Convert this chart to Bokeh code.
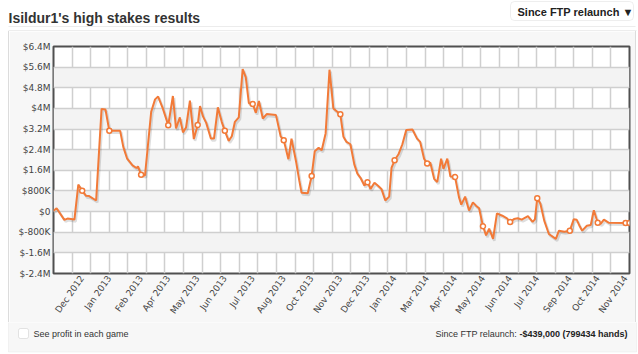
import math
import numpy as np
from bokeh.plotting import figure
from bokeh.layouts import column, row
from bokeh.models import (Range1d, FixedTicker, Label, BoxAnnotation, ColumnDataSource, Spacer)
from bokeh.transform import dodge
from bokeh.embed import file_html
from bokeh.resources import INLINE

# ---------------- data ----------------
title_text = "Isildur1's high stakes results"
range_choice = "Since FTP relaunch \u25BC"
checkbox_text = "See profit in each game"
summary_prefix = "Since FTP relaunch:"
summary_value = "-$439,000 (799434 hands)"

# days since the FTP relaunch
days = [0, 4, 14, 18, 27, 32, 37, 42, 46, 55, 62, 67, 72, 86, 90, 95, 102, 107, 109, 113,
        118, 126, 131, 135, 141, 148, 154, 158, 163, 167, 171, 176, 181, 186, 189, 193, 197,
        203, 207, 212, 217, 221, 226, 230, 234, 239, 244, 248, 252, 257, 261, 265, 270, 275,
        287, 293, 297, 303, 307, 313, 317, 320, 328, 333, 337, 342, 346, 351, 356, 361, 370,
        374, 378, 383, 388, 392, 396, 401, 405, 409, 414, 419, 423, 428, 433, 436, 440, 445,
        450, 455, 463, 469, 473, 478, 482, 486, 491, 495, 500, 503, 508, 512, 518, 523, 526,
        531, 536, 541, 545, 549, 554, 558, 562, 567, 572, 579, 585, 589, 594, 599, 604, 612,
        618, 621, 624, 628, 633, 639, 648, 652, 659, 666, 671, 675, 679, 682, 688, 693, 697,
        702, 706, 710, 716, 738, 743]
# cumulative profit, millions of dollars
profit_m = [0.03, 0.13, -0.32, -0.27, -0.31, 1.05, 0.81, 0.61, 0.60, 0.43, 3.98, 3.96, 3.13,
            3.13, 2.51, 2.05, 1.79, 1.69, 1.75, 1.43, 1.40, 3.87, 4.35, 4.46, 4.00, 3.35, 4.48,
            3.22, 3.65, 3.07, 3.26, 4.30, 2.81, 3.36, 4.09, 3.68, 3.44, 2.83, 2.83, 4.04, 3.48,
            3.13, 2.74, 2.92, 3.48, 3.65, 5.52, 5.21, 4.20, 4.17, 3.83, 4.29, 3.61, 3.78, 3.74,
            2.92, 2.77, 2.03, 2.83, 1.92, 1.21, 0.73, 0.71, 1.38, 2.34, 2.47, 2.38, 3.03, 5.50,
            4.00, 3.77, 2.90, 2.70, 2.61, 1.83, 1.47, 1.31, 1.01, 1.14, 0.88, 1.12, 0.99, 0.88,
            0.43, 0.58, 1.69, 1.99, 2.22, 2.61, 3.16, 3.18, 2.83, 2.70, 2.05, 1.86, 1.90, 1.27,
            1.14, 2.05, 1.66, 2.05, 1.36, 1.34, 0.56, 0.27, 0.58, 0.04, 0.36, 0.23, 0.13, -0.57,
            -0.92, -0.66, -1.06, -0.07, -0.16, -0.26, -0.40, -0.29, -0.26, -0.31, -0.18, -0.40,
            -0.30, 0.52, 0.31, -0.35, -0.87, -1.06, -0.74, -0.78, -0.74, -0.30, -0.32, -0.58,
            -0.74, -0.55, -0.52, 0.05, -0.43, -0.47, -0.31, -0.43, -0.439, -0.439]

tick_days = [37, 72, 113, 148, 186, 221, 257, 297, 333, 370, 405, 440, 482, 518, 554, 589,
             624, 666, 702, 738]
tick_labels = ["Dec 2012", "Jan 2013", "Feb 2013", "Apr 2013", "May 2013", "Jun 2013",
               "Jul 2013", "Aug 2013", "Oct 2013", "Nov 2013", "Dec 2013", "Jan 2014",
               "Mar 2014", "Apr 2014", "May 2014", "Jun 2014", "Jul 2014", "Sep 2014",
               "Oct 2014", "Nov 2014"]
last_day = 743
y_ticks = [-2.4, -1.6, -0.8, 0, 0.8, 1.6, 2.4, 3.2, 4.0, 4.8, 5.6, 6.4]
y_labels = ["$-2.4M", "$-1.6M", "$-800K", "$0", "$800K", "$1.6M", "$2.4M", "$3.2M",
            "$4M", "$4.8M", "$5.6M", "$6.4M"]

# ---------------- layout constants ----------------
W = 638
TOP_H, MAIN_H, BOT_H = 31, 291, 32
PANEL_L, PANEL_R = 8, 635
ORANGE = "#f27a38"
PANEL_BG = "#f7f7f7"
PANEL_LINE = "#dcdcdc"
SANS = "Liberation Sans"


def strip(height):
    f = figure(width=W, height=height, x_range=Range1d(0, W), y_range=Range1d(height, 0),
               x_axis_type=None, y_axis_type=None, output_backend="svg",
               toolbar_location=None, min_border=0, outline_line_color=None,
               background_fill_color="white", border_fill_color="white", title=None)
    f.grid.visible = False
    return f


def box(f, l, t, r, b, **kw):
    f.add_layout(BoxAnnotation(left=l, right=r, top=t, bottom=b, **kw))


# ---------- top strip: title + range selector ----------
top = strip(TOP_H)
top.add_layout(Label(x=8, y=17, text=title_text, text_font=SANS, text_font_size="14px",
                     text_font_style="bold", text_color="#333333",
                     text_baseline="alphabetic"))
box(top, PANEL_L, 25.5, PANEL_R, 26.5, fill_color="#ececec", fill_alpha=1, line_alpha=0)
box(top, 510, 1, 633, 20, fill_color="white", fill_alpha=1, line_color="#c8c8c8",
    line_width=1, border_radius=4)
top.add_layout(Label(x=517, y=11, text=range_choice, text_font=SANS, text_font_size="11px",
                     text_font_style="bold", text_color="#222222", text_baseline="middle"))
box(top, PANEL_L, 30, PANEL_R + 1, 31, fill_color=PANEL_LINE, fill_alpha=1, line_alpha=0)

# ---------- main chart ----------
p = figure(width=PANEL_R - PANEL_L - 1, height=MAIN_H, output_backend="svg",
           toolbar_location=None, title=None,
           x_range=Range1d(0, last_day), y_range=Range1d(y_ticks[0], y_ticks[-1]),
           min_border_left=44, min_border_right=6, min_border_top=15, min_border_bottom=49,
           background_fill_color="white", border_fill_color=PANEL_BG,
           outline_line_color="#505050", outline_line_width=2)

p.xaxis.ticker = FixedTicker(ticks=tick_days)
p.xaxis.major_label_overrides = dict(zip(tick_days, tick_labels))
p.xaxis.major_label_orientation = math.radians(55)
p.yaxis.ticker = FixedTicker(ticks=y_ticks)
p.yaxis.major_label_overrides = dict(zip(y_ticks, y_labels))
for ax in (p.xaxis, p.yaxis):
    ax.axis_line_color = None
    ax.major_tick_line_color = None
    ax.minor_tick_line_color = None
    ax.major_tick_out = 0
    ax.minor_tick_out = 0
    ax.major_label_text_font = "DejaVu Sans"
    ax.major_label_text_font_size = "9px"
    ax.major_label_text_color = "#444444"
    ax.major_label_standoff = 3

p.xgrid.ticker = FixedTicker(ticks=list(np.linspace(0, last_day, 32)))
p.ygrid.ticker = FixedTicker(ticks=y_ticks)
for g in (p.xgrid, p.ygrid):
    g.grid_line_color = "#cfcfcf"
    g.grid_line_width = 1.5
p.ygrid.band_fill_color = "#f3f3f3"
p.ygrid.band_fill_alpha = 1

src = ColumnDataSource(dict(day=days, profit=profit_m))
p.line(x=dodge("day", 1.6, range=p.x_range), y=dodge("profit", -0.07, range=p.y_range),
       source=src, line_color="black", line_alpha=0.13, line_width=2.5)
p.line("day", "profit", source=src, line_color=ORANGE, line_width=2)
mark_set = set(tick_days + [last_day])
mk = ColumnDataSource(dict(day=[d for d in days if d in mark_set],
                           profit=[v for d, v in zip(days, profit_m) if d in mark_set]))
p.scatter("day", "profit", source=mk, size=5, fill_color="white", line_color=ORANGE,
          line_width=1.5)

edge = dict(width=1, height=MAIN_H, styles={"background-color": PANEL_LINE})
middle = row(Spacer(width=PANEL_L, height=MAIN_H), Spacer(**edge), p, Spacer(**edge),
             Spacer(width=W - PANEL_R - 1, height=MAIN_H), spacing=0)

# ---------- bottom strip: checkbox + summary ----------
bot = strip(BOT_H)
box(bot, PANEL_L, -2, PANEL_R + 1, 29.5, fill_color=PANEL_BG, fill_alpha=1,
    line_color=PANEL_LINE, line_width=1)
box(bot, 18, 6, 28, 16, fill_color="white", fill_alpha=1, line_color="#a8a8a8",
    line_width=1, border_radius=2)
bot.add_layout(Label(x=33, y=11, text=checkbox_text, text_font=SANS, text_font_size="9px",
                     text_color="#333333", text_baseline="middle"))
bot.add_layout(Label(x=627, y=11, text=summary_value, text_font=SANS, text_font_size="9px",
                     text_font_style="bold", text_color="#222222", text_baseline="middle",
                     text_align="right"))
bot.add_layout(Label(x=516.5, y=11, text=summary_prefix, text_font=SANS,
                     text_font_size="9px", text_color="#333333", text_baseline="middle",
                     text_align="right"))

layout = column(top, middle, bot, spacing=0)
open("out.html", "w").write(file_html(layout, INLINE))
